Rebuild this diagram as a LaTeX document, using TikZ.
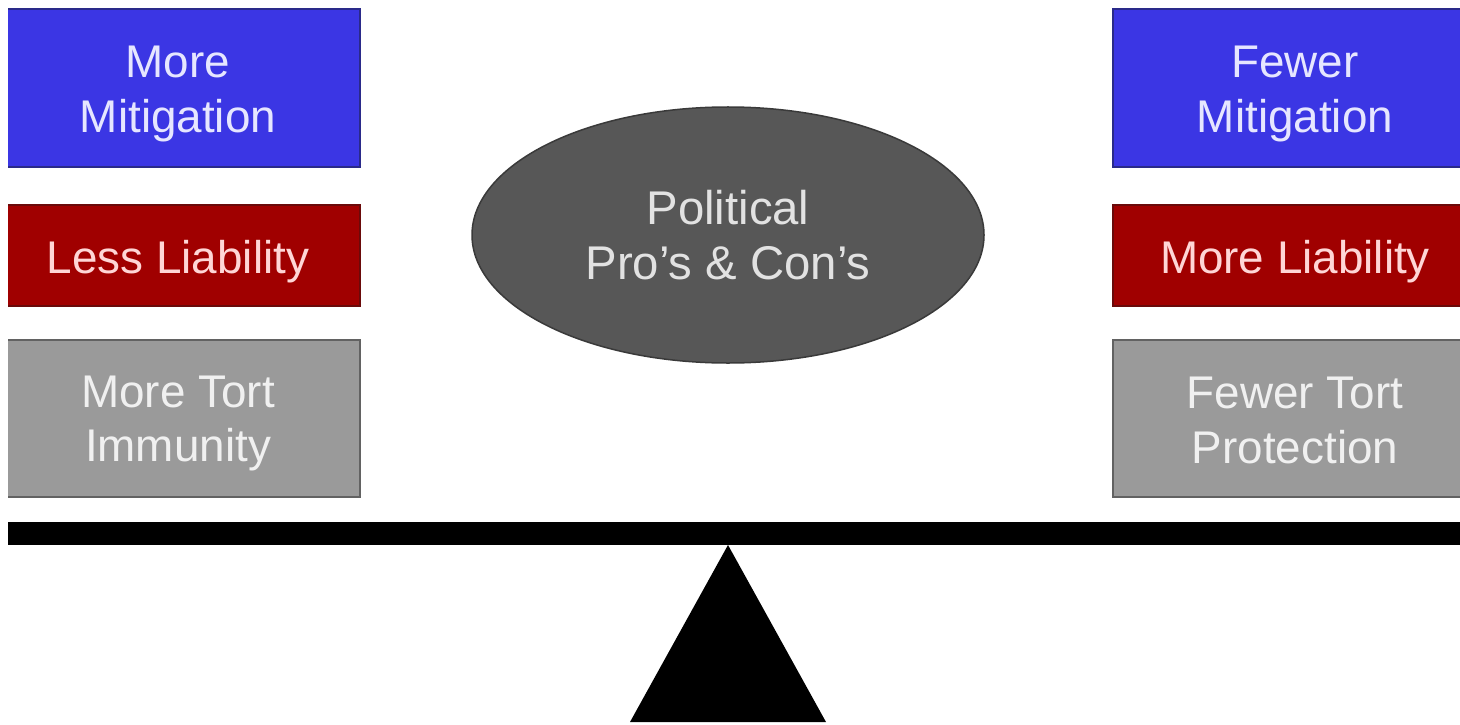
\documentclass[tikz,border=0pt]{standalone}
\usepackage{fontspec}
\setmainfont{Liberation Sans}
\usetikzlibrary{shapes.geometric}
\definecolor{boxblue}{HTML}{3B36E4}
\definecolor{blueedge}{HTML}{2A2A8A}
\definecolor{boxred}{HTML}{A00000}
\definecolor{rededge}{HTML}{6A0A0A}
\definecolor{boxgray}{HTML}{9A9A9A}
\definecolor{grayedge}{HTML}{626262}
\definecolor{ovalgray}{HTML}{575757}
\definecolor{ovaledge}{HTML}{3A3A3A}
\definecolor{txtblue}{HTML}{E6E6FF}
\definecolor{txtred}{HTML}{FFD6D6}
\definecolor{txtgray}{HTML}{F0F0F0}
\definecolor{txtoval}{HTML}{E2E2E2}
\tikzset{
  panel/.style={rectangle, line width=2bp, minimum width=364bp, inner sep=0pt},
  bluebox/.style={panel, fill=boxblue, draw=blueedge, minimum height=158bp},
  redbox/.style={panel, fill=boxred, draw=rededge, minimum height=101bp},
  graybox/.style={panel, fill=boxgray, draw=grayedge, minimum height=157bp},
  paneltext/.style={align=center, inner sep=0pt, font=\fontsize{46}{55}\selectfont},
  oval/.style={ellipse, fill=ovalgray, draw=ovaledge, line width=1.5bp, minimum width=512bp,
    minimum height=256bp, inner sep=0pt, align=center, text=txtoval,
    font=\fontsize{47.5}{55}\selectfont},
  beamstyle/.style={rectangle, fill=black, inner sep=0pt, minimum width=1480bp, minimum height=23bp}
}
\begin{document}
\begin{tikzpicture}[x=1bp,y=-1bp]
\useasboundingbox (0,0) rectangle (1460,725);
\fill[white] (0,0) rectangle (1460,725);
\clip (8,0) rectangle (1460,725);
% left column
\node[bluebox] (lm) at (178,88) {};
\node[redbox]  (ll) at (178,255.5) {};
\node[graybox] (lt) at (178,418.5) {};
\node[paneltext, text=txtblue] (lmt) at ([yshift=-6bp]lm.center) {More\\Mitigation};
\node[paneltext, text=txtred]  (llt) at ([yshift=-6bp]ll.center) {Less Liability};
\node[paneltext, text=txtgray] (ltt) at ([yshift=-5bp]lt.center) {More Tort\\Immunity};
% right column
\node[bluebox] (rm) at (1295,88) {};
\node[redbox]  (rl) at (1295,255.5) {};
\node[graybox] (rt) at (1295,418.5) {};
\node[paneltext, text=txtblue] (rmt) at ([yshift=-6bp]rm.center) {Fewer\\Mitigation};
\node[paneltext, text=txtred]  (rlt) at ([yshift=-6bp]rl.center) {More Liability};
\node[paneltext, text=txtgray] (rtt) at ([yshift=-2bp]rt.center) {Fewer Tort\\Protection};
% centre
\node[oval] (pol) at (728,235) {Political\\Pro’s \& Con’s};
% scale
\node[beamstyle] (beam) at (734,533.5) {};
\coordinate (apex) at (728,545);
\coordinate (bl) at (630,722);
\coordinate (br) at (826,722);
\fill[black] (apex) -- (br) -- (bl) -- cycle;
\end{tikzpicture}
\end{document}
